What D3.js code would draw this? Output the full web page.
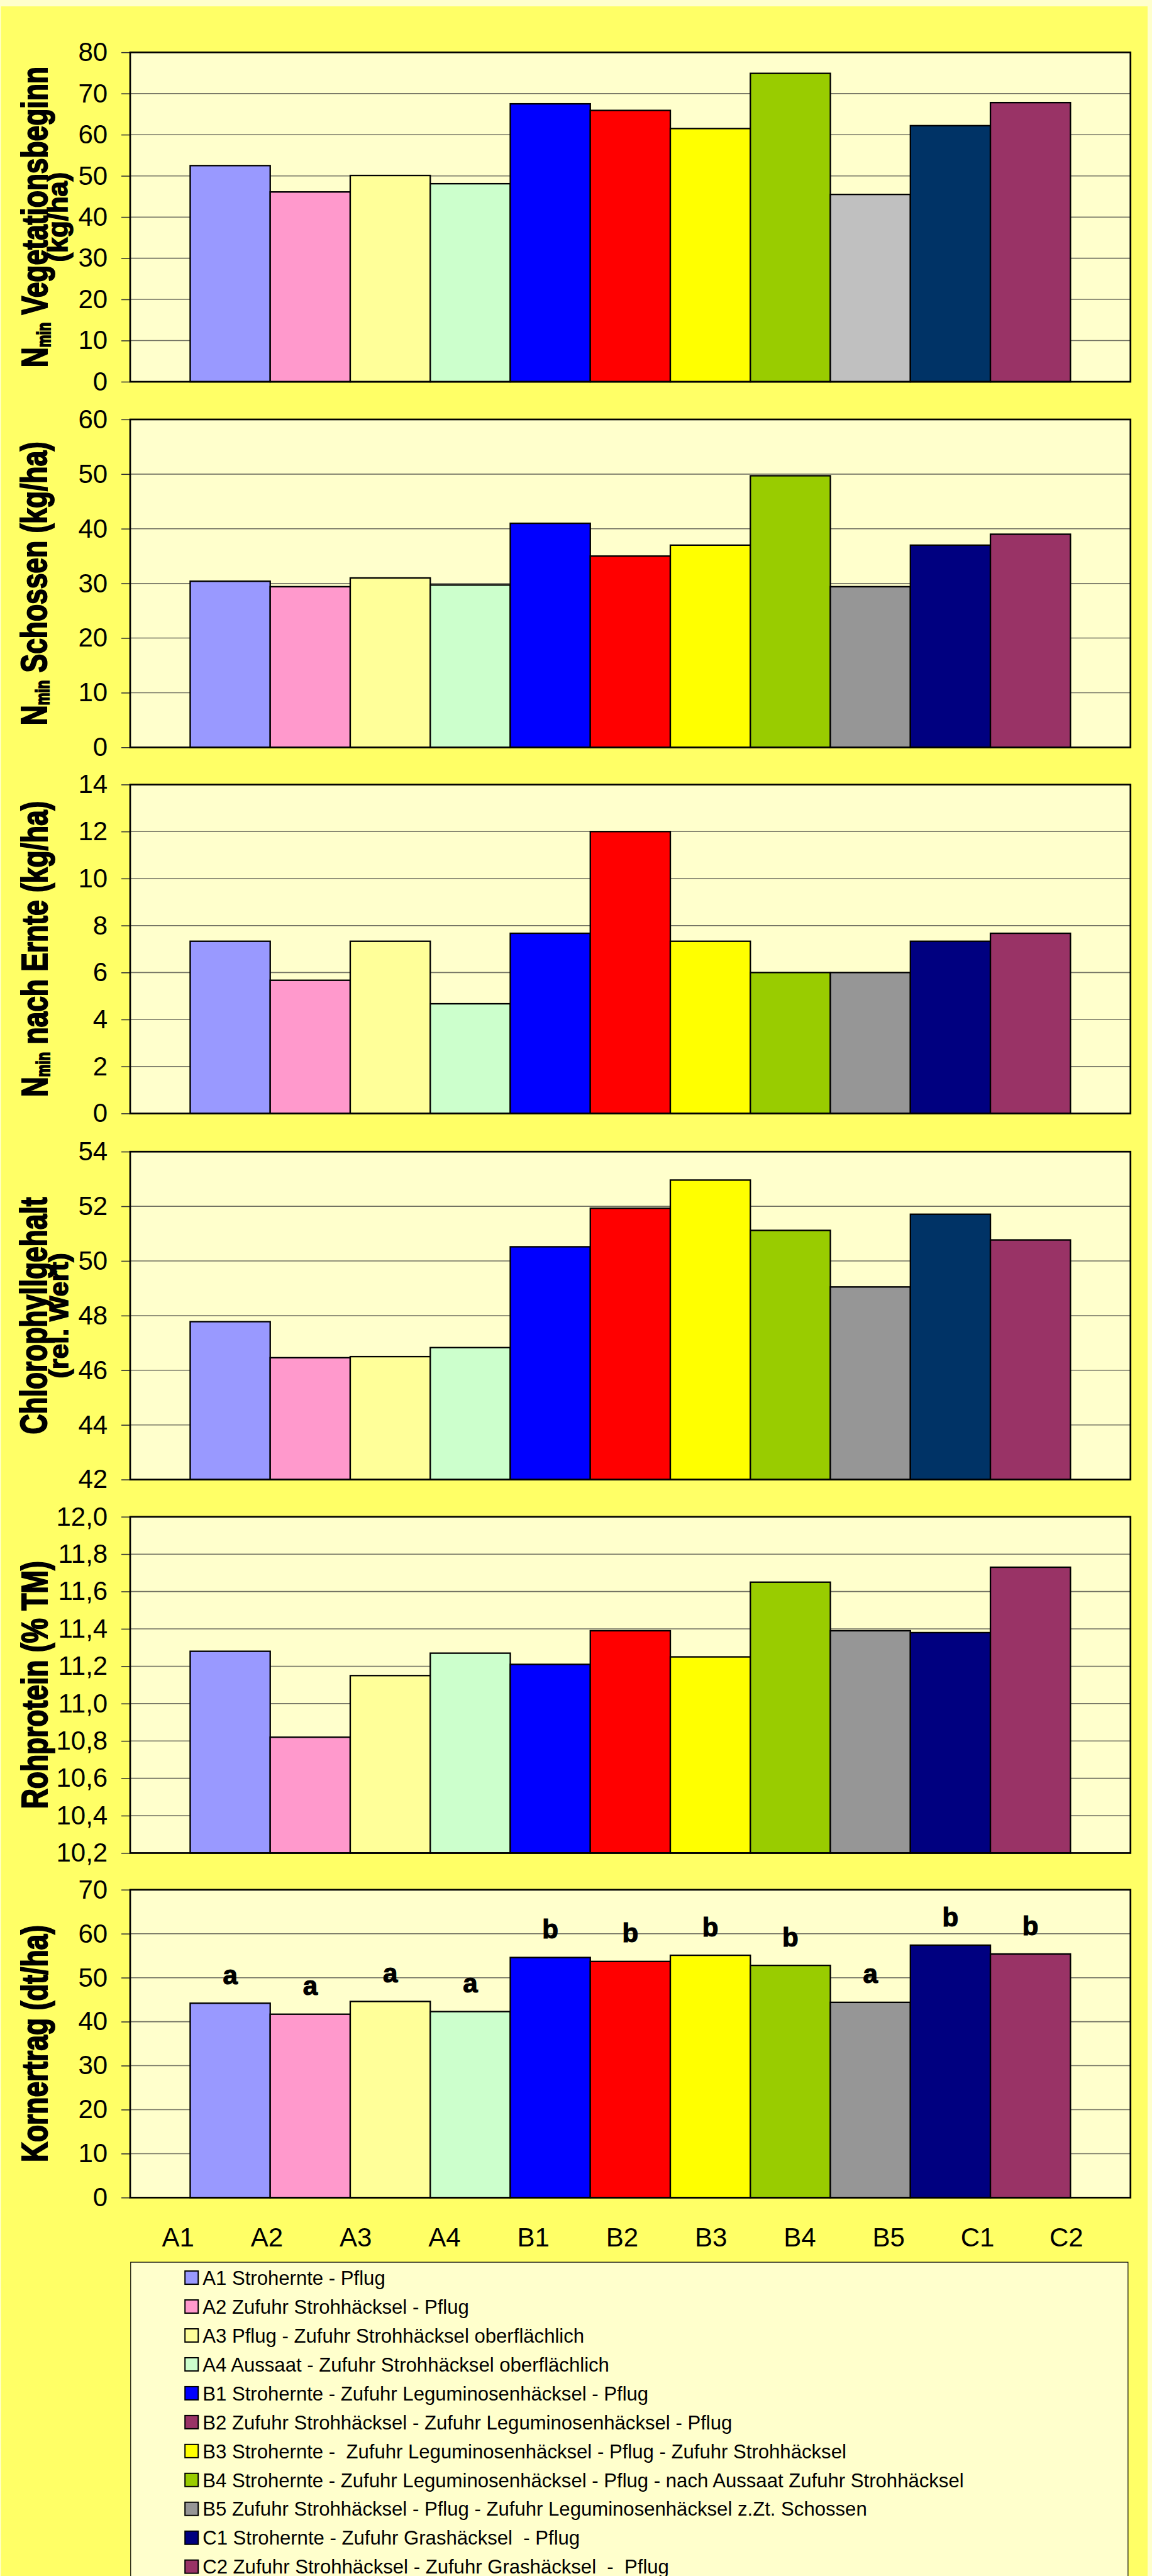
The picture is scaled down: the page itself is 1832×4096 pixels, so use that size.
<!DOCTYPE html>
<html><head><meta charset="utf-8">
<script src="https://cdn.jsdelivr.net/npm/d3@7"></script>
<style>
html,body{margin:0;padding:0;background:#FFFFCC;}
svg{display:block;}
text{font-family:"Liberation Sans",Arial,Helvetica,sans-serif;}
</style>
</head><body>
<svg id="chart" width="1832" height="4096"></svg>
<script>
// ---------- data ----------
const categories = ['A1','A2','A3','A4','B1','B2','B3','B4','B5','C1','C2'];
const nminVegetation = [52.5, 46.1, 50.1, 48.1, 67.5, 65.9, 61.5, 74.9, 45.5, 62.2, 67.8];
const nminSchossen   = [30.4, 29.4, 31.0, 29.7, 41.0, 35.0, 37.0, 49.7, 29.4, 37.0, 39.0];
const nminErnte      = [7.33, 5.67, 7.33, 4.67, 7.67, 12.0, 7.33, 6.0, 6.0, 7.33, 7.67];
const chlorophyll    = [47.78, 46.46, 46.50, 46.83, 50.52, 51.93, 52.96, 51.12, 49.05, 51.71, 50.77];
const rohprotein     = [11.28, 10.82, 11.15, 11.27, 11.21, 11.39, 11.25, 11.65, 11.39, 11.38, 11.73];
const kornertrag     = [44.2, 41.7, 44.6, 42.3, 54.6, 53.7, 55.1, 52.8, 44.4, 57.4, 55.4];
const signifLetters  = ['a','a','a','a','b','b','b','b','a','b','b'];

const ticksVegetation = [0,10,20,30,40,50,60,70,80];
const ticksSchossen   = [0,10,20,30,40,50,60];
const ticksErnte      = [0,2,4,6,8,10,12,14];
const ticksChloro     = [42,44,46,48,50,52,54];
const ticksProtein    = [10.2,10.4,10.6,10.8,11.0,11.2,11.4,11.6,11.8,12.0];
const ticksKorn       = [0,10,20,30,40,50,60,70];

const colorsLight = ['#9999FF','#FF99CC','#FFFF99','#CCFFCC','#0000FF','#FF0000','#FFFF00','#99CC00','#C0C0C0','#003366','#993366'];
const colorsNavy  = ['#9999FF','#FF99CC','#FFFF99','#CCFFCC','#0000FF','#FF0000','#FFFF00','#99CC00','#969696','#000080','#993366'];
const colorsTeal  = ['#9999FF','#FF99CC','#FFFF99','#CCFFCC','#0000FF','#FF0000','#FFFF00','#99CC00','#969696','#003366','#993366'];

const legendLabels = [
  'A1 Strohernte - Pflug',
  'A2 Zufuhr Strohhäcksel - Pflug',
  'A3 Pflug - Zufuhr Strohhäcksel oberflächlich',
  'A4 Aussaat - Zufuhr Strohhäcksel oberflächlich',
  'B1 Strohernte - Zufuhr Leguminosenhäcksel - Pflug',
  'B2 Zufuhr Strohhäcksel - Zufuhr Leguminosenhäcksel - Pflug',
  'B3 Strohernte -  Zufuhr Leguminosenhäcksel - Pflug - Zufuhr Strohhäcksel',
  'B4 Strohernte - Zufuhr Leguminosenhäcksel - Pflug - nach Aussaat Zufuhr Strohhäcksel',
  'B5 Zufuhr Strohhäcksel - Pflug - Zufuhr Leguminosenhäcksel z.Zt. Schossen',
  'C1 Strohernte - Zufuhr Grashäcksel  - Pflug',
  'C2 Zufuhr Strohhäcksel - Zufuhr Grashäcksel  -  Pflug'
];
const legendColors = ['#9999FF','#FF99CC','#FFFF99','#CCFFCC','#0000FF','#993366','#FFFF00','#99CC00','#969696','#000080','#993366'];

// ---------- layout (reference pixel space, scaled to window) ----------
const REF_W = 2354, REF_H = 5264;
const S = 1832 / REF_W;
const svg = d3.select('#chart');
const root = svg.append('g').attr('transform', `scale(${S})`);

root.append('rect').attr('width', REF_W).attr('height', REF_H).attr('fill', '#FFFFCC');
root.append('rect').attr('x', 2).attr('y', 13).attr('width', 2343).attr('height', REF_H - 13).attr('fill', '#FFFF66');

const plotLeft = 266, plotRight = 2310;
const x = d3.scaleBand().domain(categories).range([plotLeft, plotRight]).paddingInner(0).paddingOuter(0.75);

const intFmt = d => String(d);
const commaFmt = d => d.toFixed(1).replace('.', ',');

const panels = [
  { values: nminVegetation, domain: [0, 80], ticks: ticksVegetation, top: 107, bottom: 780, colors: colorsLight, fmt: intFmt,
    title: [ { parts: [{t:'N'},{t:'min', sub:true},{t:' Vegetationsbeginn'}], x: 97, size: 57, stretch: 1.31 },
             { parts: [{t:'(kg/ha)'}], x: 137, size: 56, stretch: 1 } ] },
  { values: nminSchossen, domain: [0, 60], ticks: ticksSchossen, top: 857, bottom: 1527, colors: colorsNavy, fmt: intFmt,
    title: [ { parts: [{t:'N'},{t:'min', sub:true},{t:' Schossen (kg/ha)'}], x: 95, size: 57, stretch: 1.31 } ] },
  { values: nminErnte, domain: [0, 14], ticks: ticksErnte, top: 1603, bottom: 2275, colors: colorsNavy, fmt: intFmt,
    title: [ { parts: [{t:'N'},{t:'min', sub:true},{t:' nach Ernte (kg/ha)'}], x: 96, size: 57, stretch: 1.31 } ] },
  { values: chlorophyll, domain: [42, 54], ticks: ticksChloro, top: 2353, bottom: 3023, colors: colorsTeal, fmt: intFmt,
    title: [ { parts: [{t:'Chlorophyllgehalt'}], x: 95, size: 57, stretch: 1.33 },
             { parts: [{t:'(rel. Wert)'}], x: 139, size: 55, stretch: 1 } ] },
  { values: rohprotein, domain: [10.2, 12.0], ticks: ticksProtein, top: 3099, bottom: 3786, colors: colorsNavy, fmt: commaFmt,
    title: [ { parts: [{t:'Rohprotein (% TM)'}], x: 97, size: 57, stretch: 1.31 } ] },
  { values: kornertrag, domain: [0, 70], ticks: ticksKorn, top: 3861, bottom: 4490, colors: colorsNavy, fmt: intFmt,
    letters: signifLetters,
    title: [ { parts: [{t:'Kornertrag (dt/ha)'}], x: 96, size: 57, stretch: 1.31 } ] }
];

panels.forEach(p => {
  const g = root.append('g');
  const y = d3.scaleLinear().domain(p.domain).range([p.bottom, p.top]);

  g.append('rect').attr('x', plotLeft).attr('y', p.top)
    .attr('width', plotRight - plotLeft).attr('height', p.bottom - p.top)
    .attr('fill', '#FFFFCC');

  g.append('g').selectAll('line').data(p.ticks).join('line')
    .attr('x1', plotLeft).attr('x2', plotRight)
    .attr('y1', d => y(d)).attr('y2', d => y(d))
    .attr('stroke', '#6f6f60').attr('stroke-width', 2);

  const ax = g.append('g').attr('transform', `translate(${plotLeft},0)`)
    .call(d3.axisLeft(y).tickValues(p.ticks).tickSize(18).tickPadding(28).tickFormat(p.fmt));
  ax.select('.domain').remove();
  ax.selectAll('.tick line').attr('stroke', '#333').attr('stroke-width', 2);
  ax.selectAll('.tick text').attr('font-size', 54).attr('fill', '#000')
    .attr('font-family', '"Liberation Sans",Arial,sans-serif');

  const base = y(p.domain[0]);
  g.append('g').selectAll('rect').data(p.values).join('rect')
    .attr('x', (d, i) => x(categories[i]))
    .attr('width', x.bandwidth())
    .attr('y', d => y(d))
    .attr('height', d => base - y(d))
    .attr('fill', (d, i) => p.colors[i])
    .attr('stroke', '#000').attr('stroke-width', 3);

  if (p.letters) {
    g.append('g').selectAll('text').data(p.values).join('text')
      .attr('x', (d, i) => x(categories[i]) + x.bandwidth() / 2)
      .attr('y', d => y(d) - 39)
      .attr('text-anchor', 'middle')
      .attr('font-size', 54).attr('font-weight', 'bold')
      .attr('stroke', '#000').attr('stroke-width', 1.5)
      .text((d, i) => p.letters[i]);
  }

  g.append('rect').attr('x', plotLeft).attr('y', p.top)
    .attr('width', plotRight - plotLeft).attr('height', p.bottom - p.top)
    .attr('fill', 'none').attr('stroke', '#000').attr('stroke-width', 3.5);

  const cy = (p.top + p.bottom) / 2;
  p.title.forEach(line => {
    const t = g.append('text')
      .attr('transform', `translate(${line.x},${cy}) rotate(-90) scale(1,${line.stretch})`)
      .attr('text-anchor', 'middle')
      .attr('font-size', line.size).attr('font-weight', 'bold')
      .attr('stroke', '#000').attr('stroke-width', 2)
      .style('white-space', 'pre');
    line.parts.forEach((part, k) => {
      const ts = t.append('tspan').text(part.t);
      if (part.sub) ts.attr('font-size', line.size * 0.5).attr('dy', 4);
      else if (k > 0 && line.parts[k - 1].sub) ts.attr('dy', -4);
    });
  });
});

// x category labels
const xl = d3.scalePoint().domain(categories).range([364, 2179]);
root.append('g').selectAll('text').data(categories).join('text')
  .attr('x', d => xl(d)).attr('y', 4590)
  .attr('text-anchor', 'middle').attr('font-size', 54)
  .text(d => d);

// legend
const lg = root.append('g');
lg.append('rect').attr('x', 267).attr('y', 4622).attr('width', 2038).attr('height', 800)
  .attr('fill', '#FFFFCC').attr('stroke', '#000').attr('stroke-width', 1.5);
const rowY = d3.scaleLinear().domain([0, 10]).range([4653.5, 5244]);
lg.selectAll('rect.mk').data(legendLabels).join('rect').attr('class', 'mk')
  .attr('x', 378).attr('y', (d, i) => rowY(i) - 13.5)
  .attr('width', 27).attr('height', 27)
  .attr('fill', (d, i) => legendColors[i])
  .attr('stroke', '#000').attr('stroke-width', 2.5);
lg.selectAll('text').data(legendLabels).join('text')
  .attr('x', 414).attr('y', (d, i) => rowY(i) + 14.5)
  .attr('font-size', 40)
  .style('white-space', 'pre')
  .text(d => d);
</script>
</body></html>
